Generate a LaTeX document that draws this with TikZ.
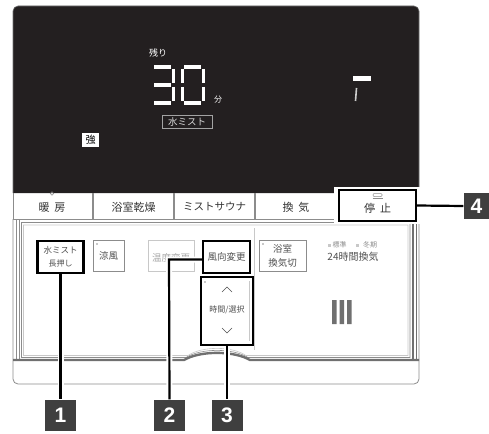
\documentclass[tikz,border=0pt]{standalone}
\usepackage{fontspec}
\setmainfont{Noto Sans CJK JP}
\newfontfamily\numfont{Liberation Sans}
\definecolor{disp}{HTML}{231F20}
\definecolor{lg}{HTML}{8C8C8C}
\definecolor{dg}{HTML}{707070}
\definecolor{llg}{HTML}{C8C8C8}
\definecolor{labbg}{HTML}{3F3F3F}
\definecolor{ptxt}{HTML}{505050}
\newcommand{\fsz}[2]{\fontsize{#1}{#2}\selectfont}
\begin{document}
\begin{tikzpicture}[x=1pt,y=-1pt,
  bbox/.style={draw=black,line width=2.2pt,fill=white,inner sep=0pt,align=center,text=ptxt},
  gbox/.style={draw=lg,line width=0.7pt,inner sep=0pt,align=center,text=ptxt},
  lab/.style={fill=labbg,text=white,inner sep=0pt,minimum size=31pt,font=\numfont\bfseries\fsz{21}{21}},
  callout/.style={black,line width=2.2pt},
  halo/.style={white,line width=6pt},
  seg/.style={white,line width=3.5pt},
  btxt/.style={font=\fsz{11}{11},text=black!80,inner sep=0pt},
  dtxt/.style={text=white,inner sep=0pt},
  gdot/.style={fill=llg},
]
\useasboundingbox (0,0) rectangle (489,433);

% ---------- display ----------
\fill[disp] (13,193) [rounded corners=5pt] -- (13,6) -- (419,6) [sharp corners] -- (419,193) -- cycle;
\draw[dg,line width=0.6pt] (13,193) [rounded corners=5pt] -- (13,6) -- (419,6) [sharp corners] -- (419,193);
\node[dtxt,font=\fsz{9}{9}] (nokori) at (158,53) {残り};
% digit 3
\draw[seg] (154,67)--(171,67) (154,85)--(171,85) (154,103)--(171,103)
           (173.5,69)--(173.5,83) (173.5,87)--(173.5,101);
% digit 0
\draw[seg] (184,67)--(201,67) (184,103)--(201,103)
           (182.5,69)--(182.5,83) (182.5,87)--(182.5,101)
           (203.5,69)--(203.5,83) (203.5,87)--(203.5,101);
\node[dtxt,font=\fsz{8}{8}] (fun) at (218,100) {分};
\node[draw=lg!80!white,line width=0.8pt,text=white!85!black,inner sep=0pt,minimum width=50pt,minimum height=13pt,font=\fsz{9.5}{9.5}] (dmist) at (187,121.5) {水ミスト};
\node[fill=white,text=black,inner sep=0pt,minimum width=17pt,minimum height=14pt,font=\fsz{10}{10}] (kyo) at (90.5,140) {強};
\fill[white] (353,76) rectangle (371,81);
\draw[white!80!black,line width=1.6pt] (356.5,88) -- (355.5,101);

% ---------- button row ----------
\draw[lg,line width=0.7pt] (13,193) -- (13,219) -- (419,219) -- (419,193);
\foreach \xx in {93,174,255,337}{\draw[lg,line width=1.3pt] (\xx,193) -- (\xx,219);}
\draw[lg,line width=0.5pt] (52,193.5) circle (1.8pt);
\node[btxt] (danbo) at (52,207) {暖\hspace{5pt}房};
\node[btxt] (kanso) at (133.5,207) {浴室乾燥};
\node[btxt,font=\fsz{10.5}{10.5}] (sauna) at (214.5,207) {ミストサウナ};
\node[btxt] (kanki) at (296,207) {換\hspace{5pt}気};

% ---------- lower frame ----------
\draw[lg,line width=0.8pt,rounded corners=5pt] (13,219) -- (13,384) -- (419,384) -- (419,219);
\draw[lg,line width=0.6pt] (16.5,219) -- (16.5,360) (19,219) -- (19,360);
\draw[dg,line width=1.2pt] (413,219) -- (413,360) (416.5,219) -- (416.5,360);
% inner panel (double outline with bump)
\draw[lg,line width=0.6pt] (21.5,222.5) -- (410,222.5) -- (410,357.5) -- (248,357.5)
   .. controls (233,348) and (201,348) .. (186,357.5) -- (21.5,357.5) -- cycle;
\draw[llg,line width=0.6pt] (23.5,225) -- (408,225) -- (408,355.5) -- (246,355.5)
   .. controls (232,346) and (202,346) .. (188,355.5) -- (23.5,355.5) -- cycle;
\draw[dg,line width=2.4pt] (13,360) -- (184,360) .. controls (200,350.5) and (234,350.5) .. (250,360) -- (419,360);
% separator
\draw[llg,line width=0.6pt] (254.5,228) -- (254.5,350);

% ---------- panel buttons ----------
\node[gbox,minimum width=31pt,minimum height=31pt,font=\fsz{9.5}{9.5}] (ryo) at (108.5,255.5) {涼風};
\fill[gdot] (95.5,242.5) rectangle (97.5,244.5);
\node[draw=llg,line width=0.7pt,inner sep=0pt,minimum width=46pt,minimum height=31pt] (ondo) at (171,255.5) {};
\node[text=black!35,inner sep=0pt,font=\fsz{9.5}{9.5}] (ondotxt) at (171,257.5) {温度変更};
\node[gbox,minimum width=47pt,minimum height=31pt,font=\fsz{9.5}{14}] (yoku) at (282.5,255.5) {浴室\\換気切};
\fill[gdot] (261.5,242.5) rectangle (263.5,244.5);
\fill[gdot] (328,244) rectangle (330.5,246.5);
\node[text=lg,inner sep=0pt,font=\fsz{7}{7}] (hyojun) at (339.5,245) {標準};
\fill[gdot] (356,244) rectangle (358.5,246.5);
\node[text=lg,inner sep=0pt,font=\fsz{7}{7}] (toki) at (370,245) {冬期};
\node[text=ptxt,inner sep=0pt,font=\fsz{10}{10}] (h24) at (353,257) {24時間換気};
\fill[dg] (332,300) rectangle (336.5,324) (339.5,300) rectangle (344,324) (347,300) rectangle (351.5,324);

% ---------- callout halos ----------
\coordinate (c2) at (169,259.5);
\node[lab] (l1) at (60.5,415) {1};
\node[lab] (l2) at (169.5,415) {2};
\node[lab] (l3) at (227,415) {3};
\node[lab,minimum size=26pt] (l4) at (476.5,206) {4};
\draw[halo] (60.5,276) -- (l1.north);
\draw[halo] (201.5,259.5) -- (c2) -- (l2.north);
\draw[halo] (227,348) -- (l3.north);

% ---------- highlighted buttons ----------
\node[bbox,minimum width=46pt,minimum height=32pt,font=\fsz{8.5}{13}] (mist) at (60.5,257) {水ミスト\\{\fsz{8}{8}長押し}};
\node[bbox,minimum width=47pt,minimum height=32pt,font=\fsz{9.5}{9.5}] (fu) at (226.5,257) {風向変更};
\node[bbox,minimum width=52pt,minimum height=68pt] (jikan) at (227,311) {};
\fill[white] (334,187) rectangle (420,224);
\node[bbox,minimum width=77pt,minimum height=31pt] (stop) at (377.5,205.5) {};
\node[btxt] (teishi) at (377.5,208.5) {停\hspace{5pt}止};
\draw[lg,line width=0.5pt,rounded corners=1pt] (373,193.5) rectangle (382,196.5);
\draw[lg,line width=0.5pt] (372.5,198.5) -- (382.5,198.5);
% inside time box
\draw[llg,line width=0.6pt] (249.5,281) -- (249.5,341);
\fill[gdot] (204,280.5) rectangle (206,282.5);
\draw[ptxt,line width=0.6pt] (222,292) -- (227,287) -- (232,292);
\node[text=ptxt,inner sep=0pt,font=\fsz{8}{8}] (jtxt) at (227,310) {時間/選択};
\draw[ptxt,line width=0.6pt] (222,328) -- (227,333) -- (232,328);

% ---------- callout lines ----------
\draw[callout] (mist.south) -- (l1.north);
\draw[callout] (fu.west |- c2) -- (c2) -- (l2.north);
\draw[callout] (jikan.south) -- (l3.north);
\draw[callout] (stop.east) -- (l4.west);
\end{tikzpicture}
\end{document}
